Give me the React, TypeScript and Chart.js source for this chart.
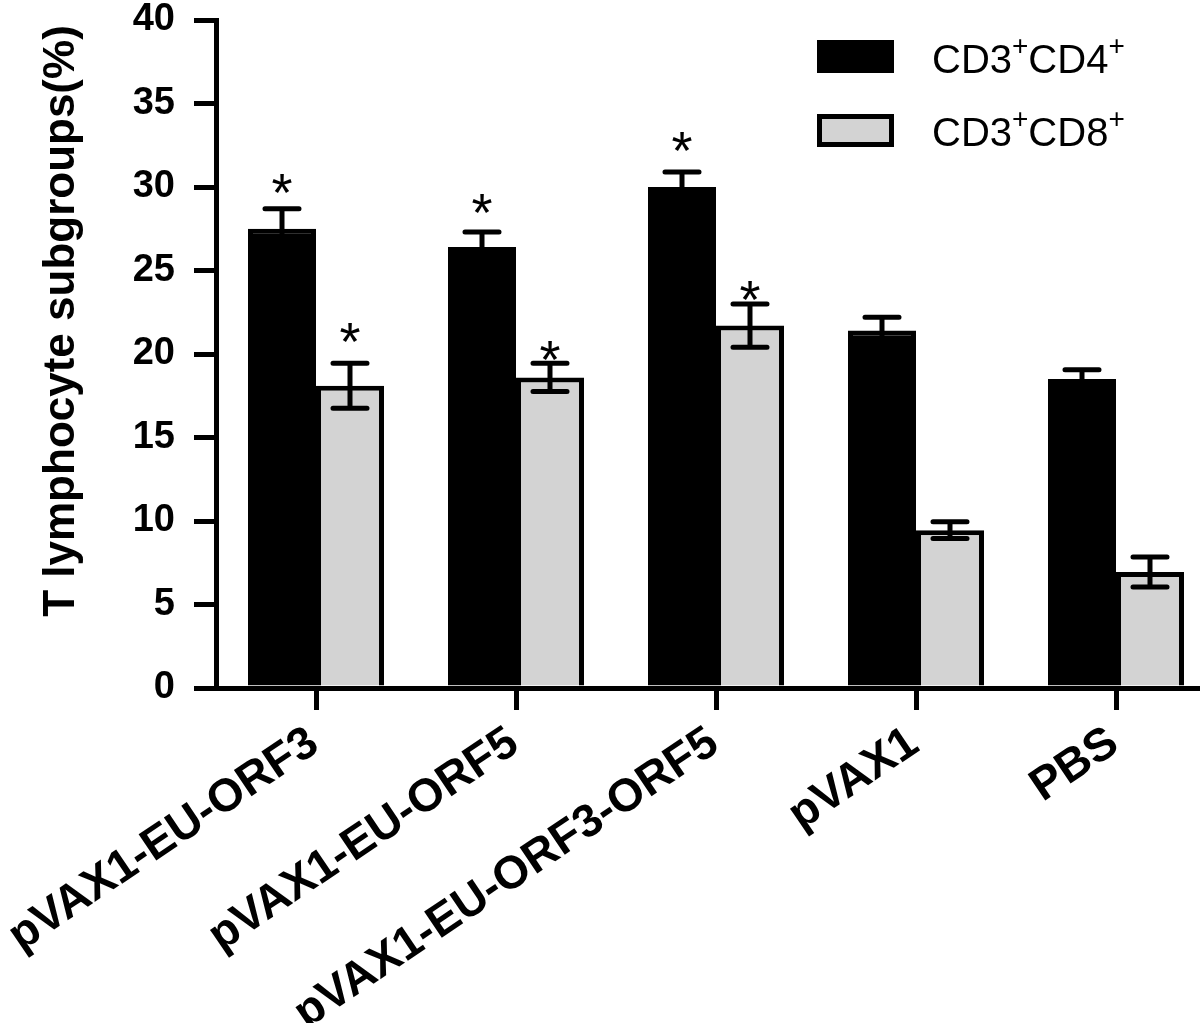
import React, { useEffect, useRef } from "react";
import { Chart, registerables } from "chart.js";

Chart.register(...registerables);

const categories = ["pVAX1-EU-ORF3", "pVAX1-EU-ORF5", "pVAX1-EU-ORF3-ORF5", "pVAX1", "PBS"];
const seriesNames = ["CD3+CD4+", "CD3+CD8+"];
const cd4Values = [27.5, 26.4, 30.0, 21.4, 18.5];
const cd4Errors = [1.2, 0.9, 0.9, 0.8, 0.55];
const cd8Values = [18.1, 18.6, 21.7, 9.45, 6.95];
const cd8Errors = [1.35, 0.85, 1.3, 0.5, 0.9];
const cd4Stars: (number | null)[] = [30.2, 29.0, 32.7, null, null];
const cd8Stars: (number | null)[] = [21.3, 20.2, 23.8, null, null];
const yMin = 0;
const yMax = 40;
const yStep = 5;
const yTitle = "T lymphocyte subgroups(%)";

const FONT = '"Liberation Sans", Arial, Helvetica, sans-serif';
const BLACK = "#000000";
const GRAY = "#d3d3d3";

const W = 1230;
const H = 1023;

export default function App() {
  const ref = useRef<HTMLCanvasElement | null>(null);

  useEffect(() => {
    const canvas = ref.current;
    if (!canvas) return;

    const errorPlugin = {
      id: "errorBars",
      afterDatasetsDraw(chart: any) {
        const ctx = chart.ctx;
        const ys = chart.scales.y;
        const groups: [number[], number[], (number | null)[]][] = [
          [cd4Values, cd4Errors, cd4Stars],
          [cd8Values, cd8Errors, cd8Stars],
        ];
        groups.forEach(([vals, errs, stars], di) => {
          const meta = chart.getDatasetMeta(di);
          meta.data.forEach((bar: any, i: number) => {
            const x = bar.x;
            const top = ys.getPixelForValue(vals[i] + errs[i]);
            const bot = ys.getPixelForValue(vals[i] - errs[i]);
            ctx.save();
            ctx.strokeStyle = BLACK;
            ctx.lineWidth = 5;
            ctx.lineCap = "round";
            ctx.beginPath();
            ctx.moveTo(x, bot);
            ctx.lineTo(x, top);
            ctx.moveTo(x - 17, top);
            ctx.lineTo(x + 17, top);
            ctx.moveTo(x - 17, bot);
            ctx.lineTo(x + 17, bot);
            ctx.stroke();
            const s = stars[i];
            if (s !== null && s !== undefined) {
              ctx.fillStyle = BLACK;
              ctx.font = `54px ${FONT}`;
              ctx.textAlign = "center";
              ctx.textBaseline = "alphabetic";
              const m = ctx.measureText("*");
              const cy = ys.getPixelForValue(s);
              ctx.fillText("*", x, cy + (m.actualBoundingBoxAscent - m.actualBoundingBoxDescent) / 2);
            }
            ctx.restore();
          });
        });
      },
      afterDraw(chart: any) {
        const ctx = chart.ctx;
        // y-axis title
        ctx.save();
        ctx.translate(62, 321);
        ctx.rotate(-Math.PI / 2);
        ctx.fillStyle = BLACK;
        ctx.font = `bold 44px ${FONT}`;
        ctx.textAlign = "center";
        ctx.textBaseline = "middle";
        ctx.fillText(yTitle, 0, 0);
        ctx.restore();

        // legend
        const items = [
          { fill: BLACK, y: 40, base: 73, main: ["CD3", "CD4"] },
          { fill: GRAY, y: 114, base: 146, main: ["CD3", "CD8"] },
        ];
        items.forEach((it, k) => {
          ctx.save();
          ctx.fillStyle = BLACK;
          ctx.fillRect(817, it.y, 77, 33);
          if (k === 1) {
            ctx.fillStyle = GRAY;
            ctx.fillRect(822, it.y + 5, 67, 23);
          }
          let x = 932;
          ctx.fillStyle = BLACK;
          ctx.textAlign = "left";
          ctx.textBaseline = "alphabetic";
          it.main.forEach((part) => {
            ctx.font = `40px ${FONT}`;
            ctx.fillText(part, x, it.base);
            x += ctx.measureText(part).width;
            ctx.font = `28px ${FONT}`;
            ctx.fillText("+", x, it.base - 18);
            x += ctx.measureText("+").width;
          });
          ctx.restore();
        });
      },
    };

    const chart = new Chart(canvas, {
      type: "bar",
      data: {
        labels: categories,
        datasets: [
          {
            label: seriesNames[0],
            data: cd4Values,
            backgroundColor: BLACK,
            borderColor: BLACK,
            borderWidth: 5,
            categoryPercentage: 0.68,
            barPercentage: 1.0,
          },
          {
            label: seriesNames[1],
            data: cd8Values,
            backgroundColor: GRAY,
            borderColor: BLACK,
            borderWidth: 5,
            categoryPercentage: 0.68,
            barPercentage: 1.0,
          },
        ],
      },
      options: {
        responsive: false,
        animation: false,
        devicePixelRatio: 1,
        layout: { padding: { left: 0, top: 0, right: W - 1216, bottom: 0 } },
        plugins: {
          legend: { display: false },
          tooltip: { enabled: false },
          title: { display: false },
        },
        scales: {
          x: {
            offset: true,
            grid: {
              offset: false,
              display: true,
              drawOnChartArea: false,
              drawTicks: true,
              tickLength: 22,
              lineWidth: 5,
              color: BLACK,
            },
            border: { display: true, width: 5, color: BLACK },
            ticks: {
              autoSkip: false,
              minRotation: 34,
              maxRotation: 34,
              padding: 6,
              labelOffset: -2,
              color: BLACK,
              font: { family: FONT, size: 46, weight: "bold" },
            },
            afterFit(scale: any) {
              scale.height = H - 688;
              scale.paddingLeft = 0;
              scale.paddingRight = 0;
            },
          },
          y: {
            min: yMin,
            max: yMax,
            grid: {
              display: true,
              drawOnChartArea: false,
              drawTicks: true,
              tickLength: 22,
              lineWidth: 5,
              color: BLACK,
            },
            border: { display: true, width: 5, color: BLACK },
            ticks: {
              stepSize: yStep,
              padding: 19,
              color: BLACK,
              font: { family: FONT, size: 38, weight: "bold" },
            },
            afterFit(scale: any) {
              scale.width = 216;
              scale.paddingTop = 20;
              scale.paddingBottom = 0;
            },
          },
        },
      },
      plugins: [errorPlugin],
    });

    return () => chart.destroy();
  }, []);

  return (
    <div style={{ position: "fixed", left: 0, top: 0, width: 1200, height: H, overflow: "hidden", background: "#fff" }}>
      <canvas ref={ref} width={W} height={H} style={{ display: "block", width: W, height: H }} />
    </div>
  );
}
